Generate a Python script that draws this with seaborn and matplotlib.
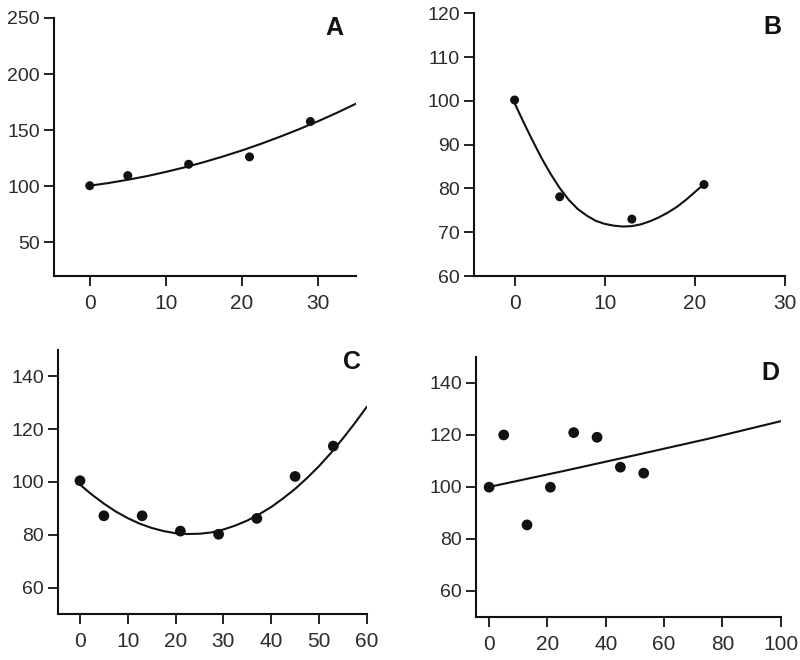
import numpy as np
import pandas as pd
import matplotlib
matplotlib.use("Agg")
import matplotlib.pyplot as plt
import seaborn as sns

# ---- panel A ----
a_x = [0, 5, 13, 21, 29]
a_y = [100.5, 109.5, 119.6, 126.2, 157.7]
a_curve_x = [0, 2.5, 5, 7.5, 10, 12.5, 15, 17.5, 20, 22.5, 25, 27.5, 30, 32.5, 35]
a_curve_y = [100.5, 102.9, 105.8, 109.0, 112.8, 116.9, 121.5, 126.5, 131.9, 137.8,
             144.1, 150.8, 157.9, 165.5, 173.6]

# ---- panel B ----
b_x = [0, 5, 13, 21]
b_y = [100.2, 78.1, 73.0, 80.9]
b_curve_x = list(range(0, 22))
b_curve_y = [99.5, 95.1, 90.9, 86.9, 83.3, 80.1, 77.4, 75.3, 73.8, 72.6, 71.9,
             71.5, 71.3, 71.4, 71.8, 72.5, 73.4, 74.5, 75.8, 77.4, 79.2, 81.0]

# ---- panel C ----
c_x = [0, 5, 13, 21, 29, 37, 45, 53]
c_y = [100.5, 87.2, 87.2, 81.4, 80.2, 86.2, 102.1, 113.6]
c_curve_x = [0, 2.5, 5, 7.5, 10, 12.5, 15, 17.5, 20, 22.5, 25, 27.5, 30, 32.5, 35,
             37.5, 40, 42.5, 45, 47.5, 50, 52.5, 55, 57.5, 60]
c_curve_y = [99.0, 95.2, 91.8, 88.8, 86.3, 84.2, 82.6, 81.4, 80.6, 80.3, 80.4, 80.9,
             82.0, 83.5, 85.4, 87.8, 90.5, 93.8, 97.4, 101.5, 106.0, 111.0, 116.5,
             122.3, 128.5]

# ---- panel D ----
d_x = [0, 5, 13, 21, 29, 37, 45, 53]
d_y = [99.9, 120.0, 85.4, 99.9, 120.9, 119.1, 107.6, 105.3]
d_curve_x = [0, 25, 50, 75, 100]
d_curve_y = [100.0, 106.0, 112.2, 118.5, 125.3]

panels = [
    ("A", a_x, a_y, a_curve_x, a_curve_y, (-4.7, 35), (20, 250), [0, 10, 20, 30],
     [50, 100, 150, 200, 250], [0.0675, 0.5818, 0.3775, 0.391], (0.927, 0.963), 42),
    ("B", b_x, b_y, b_curve_x, b_curve_y, (-4.5, 30), (60, 120), [0, 10, 20, 30],
     [60, 70, 80, 90, 100, 110, 120], [0.5925, 0.5818, 0.389, 0.398], (0.960, 0.949), 42),
    ("C", c_x, c_y, c_curve_x, c_curve_y, (-4.6, 60), (50, 150), [0, 10, 20, 30, 40, 50, 60],
     [60, 80, 100, 120, 140], [0.0725, 0.0697, 0.386, 0.4], (0.953, 0.953), 60),
    ("D", d_x, d_y, d_curve_x, d_curve_y, (-4.5, 100), (50, 150), [0, 20, 40, 60, 80, 100],
     [60, 80, 100, 120, 140], [0.595, 0.0652, 0.381, 0.394], (0.967, 0.938), 60),
]

sns.set_style("ticks")
plt.rcParams["font.family"] = ["Liberation Sans", "DejaVu Sans"]

TXT = "#2b2b2b"
fig = plt.figure(figsize=(8, 6.6), dpi=100)

for label, px, py, cx, cy, xlim, ylim, xt, yt, pos, lpos, msize in panels:
    ax = fig.add_axes(pos)
    sns.lineplot(x=cx, y=cy, ax=ax, color="#111111", linewidth=1.5, sort=False,
                 estimator=None)
    sns.scatterplot(x=px, y=py, ax=ax, color="#111111", s=msize, edgecolor="none",
                    zorder=3)
    ax.set_xlim(*xlim)
    ax.set_ylim(*ylim)
    ax.set_xticks(xt)
    ax.set_yticks(yt)
    sns.despine(ax=ax)
    for sp in ("left", "bottom"):
        ax.spines[sp].set_linewidth(1.5)
        ax.spines[sp].set_color("#111111")
    ax.tick_params(axis="both", direction="out", length=7, width=1.3,
                   color="#111111", labelcolor=TXT)
    ax.tick_params(axis="x", pad=6, labelsize=15)
    ax.tick_params(axis="y", pad=3, labelsize=14)
    ax.text(lpos[0], lpos[1], label, transform=ax.transAxes, fontsize=18,
            fontweight="bold", ha="center", va="center", color="#111111")

fig.savefig("out.png", dpi=100)
